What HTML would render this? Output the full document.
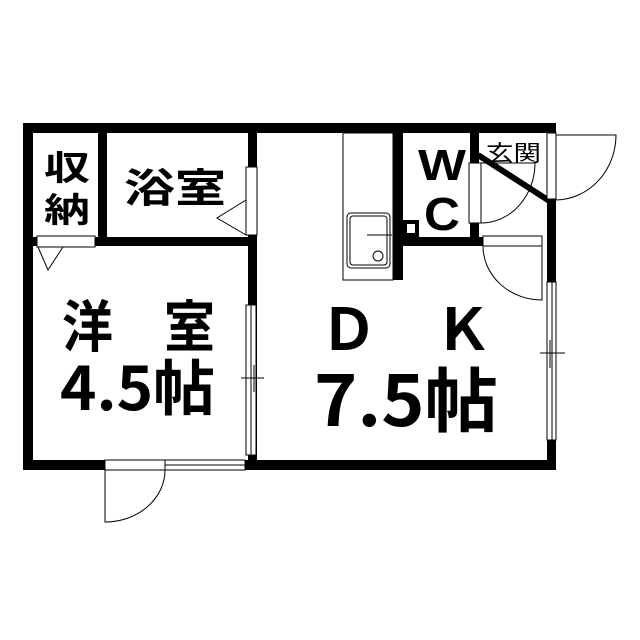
<!DOCTYPE html>
<html><head><meta charset="utf-8"><style>html,body{margin:0;padding:0;background:#fff}svg{display:block}</style></head>
<body>
<svg width="640" height="640" viewBox="0 0 640 640" xmlns="http://www.w3.org/2000/svg">
<rect width="640" height="640" fill="#fff"/>
<g fill="#000">
<rect x="23" y="123" width="533" height="10"/>
<rect x="23" y="123" width="10" height="347"/>
<rect x="23" y="460" width="533" height="10"/>
<rect x="547" y="198" width="9" height="272"/>
<rect x="98" y="123" width="9" height="123"/>
<rect x="248" y="123" width="9" height="347"/>
<rect x="33" y="237" width="224" height="9"/>
<rect x="393" y="123" width="10" height="157"/>
<rect x="403" y="237" width="80" height="9"/>
<rect x="470" y="123" width="9" height="123"/>
<rect x="403" y="220" width="16" height="17"/>
</g>
<rect x="407" y="224" width="8" height="9" fill="#fff"/>
<line x1="478" y1="155" x2="551" y2="202" stroke="#000" stroke-width="6"/>
<g fill="#fff" stroke="#000" stroke-width="1">
<rect x="37" y="236" width="58" height="11"/>
<rect x="246" y="167" width="11" height="68"/>
<rect x="547" y="133" width="9" height="66"/>
<rect x="469" y="163" width="12" height="60"/>
<rect x="483" y="236" width="59" height="10"/>
<rect x="246" y="305" width="10" height="150"/>
<rect x="547" y="282" width="9" height="158"/>
<rect x="105" y="460" width="140" height="10"/>
<rect x="343" y="133" width="50" height="147"/>
<rect x="347" y="213" width="43" height="55" rx="4"/>
<rect x="350" y="216" width="37" height="49" rx="3"/>
</g>
<g fill="none" stroke="#000" stroke-width="1">
<line x1="165" y1="460" x2="165" y2="470"/>
<line x1="165" y1="465" x2="245" y2="465"/>
<line x1="251" y1="305" x2="251" y2="455"/>
<line x1="552" y1="282" x2="552" y2="440"/>
<line x1="241" y1="378" x2="264" y2="378"/>
<line x1="254" y1="365" x2="254" y2="392"/>
<line x1="540" y1="353" x2="565" y2="353"/>
<line x1="550" y1="340" x2="550" y2="368"/>
<circle cx="378" cy="256" r="5"/>
<line x1="367" y1="235" x2="392" y2="235"/>
<polyline points="38,247 48,270 63,247"/>
<polyline points="246,200 217,218 246,235"/>
<path d="M556,135 L616,135 A61,65 0 0 1 556,200"/>
<path d="M481,223 A54,60 0 0 0 535,163 L481,163"/>
<path d="M483,246 A59,54 0 0 0 542,300 L542,246"/>
<path d="M105,470 L105,522 A60,52 0 0 0 165,470"/>
</g>
<g font-family="'Liberation Sans','Noto Sans CJK JP',sans-serif" font-weight="bold" fill="#000">
<text x="44" y="180" font-size="34" textLength="46" lengthAdjust="spacingAndGlyphs">収</text>
<text x="44" y="222" font-size="34" textLength="46" lengthAdjust="spacingAndGlyphs">納</text>
<text x="124" y="202" font-size="40" textLength="102" lengthAdjust="spacingAndGlyphs">浴室</text>
<text x="418" y="180" font-size="44" textLength="48" lengthAdjust="spacingAndGlyphs">W</text>
<text x="424" y="230" font-size="46" textLength="36" lengthAdjust="spacingAndGlyphs">C</text>
<text x="486" y="161" font-size="22" font-weight="normal" textLength="55" lengthAdjust="spacingAndGlyphs">玄関</text>
</g>
<g font-family="'Noto Sans CJK JP','Liberation Sans',sans-serif" font-weight="bold" fill="#000">
<text x="62" y="347" font-size="56" textLength="153" lengthAdjust="spacingAndGlyphs">洋　室</text>
<text x="60" y="410" font-size="60" textLength="155" lengthAdjust="spacingAndGlyphs">4.5帖</text>
<text x="320" y="350" font-size="58" textLength="172" lengthAdjust="spacingAndGlyphs">Ｄ　Ｋ</text>
<text x="314" y="426" font-size="70" textLength="184" lengthAdjust="spacingAndGlyphs">7.5帖</text>
</g>
</svg>
</body></html>
